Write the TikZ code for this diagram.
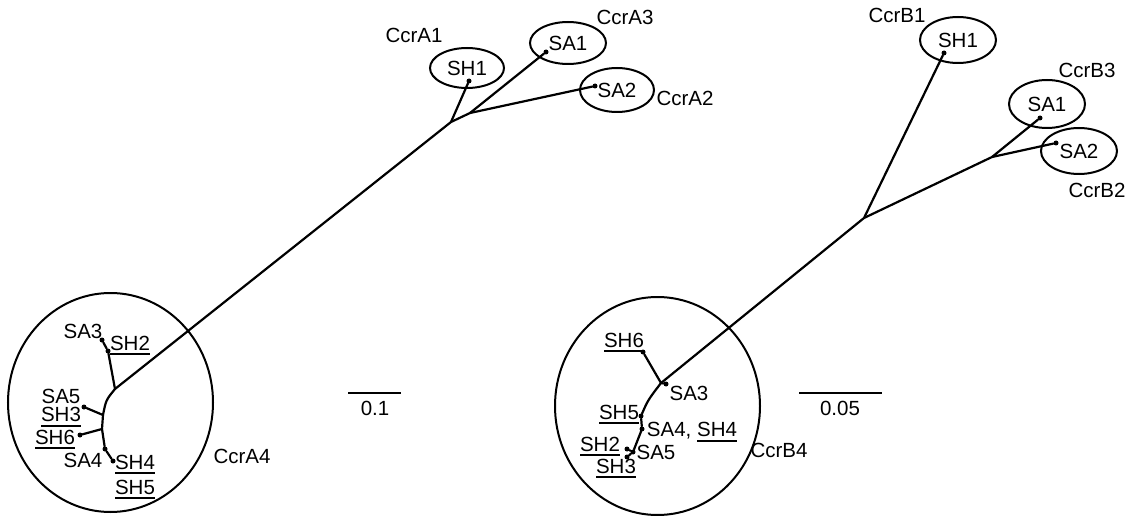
\documentclass[tikz,border=0pt]{standalone}
\usepackage{fontspec}
\setmainfont{Liberation Sans}
\usetikzlibrary{shapes.geometric}
% underline that does not change the height or depth of the text box
\newcommand\ulx[1]{\setbox0\hbox{#1}\rlap{\smash{\rule[-5pt]{\wd0}{1.7pt}}}\box0}
\begin{document}
\begin{tikzpicture}[x=1pt,y=-1pt,
  font=\fontsize{20.5}{24}\selectfont,
  branch/.style={line width=2.2pt, line cap=round, line join=round},
  ring/.style={ellipse, draw, line width=2pt, inner sep=0pt},
  lbl/.style={inner sep=0pt},
  tip/.style={circle, fill, inner sep=0pt, minimum size=5pt},
  bar/.style={line width=2.2pt}]
\useasboundingbox (0,0) rectangle (1128,516);

% ---------------- CcrA tree ----------------
\node[ring, minimum width=205pt, minimum height=219pt] (aC4) at (110.5,402.5) {};
\node[ring, minimum width=74pt, minimum height=40pt] (aE1) at (467,68) {SH1};
\node[ring, minimum width=76pt, minimum height=42pt] (aE3) at (568,43) {SA1};
\node[ring, minimum width=74pt, minimum height=44pt] (aE2) at (617,90) {SA2};

\coordinate (aJ) at (115,389);
\coordinate (aU) at (451,122);
\coordinate (aV) at (470,113);
\node[tip] (aSH1) at (469,81) {};
\node[tip] (aSA1) at (546,52) {};
\node[tip] (aSA2) at (595,86) {};
\draw[branch] (aJ) -- (aU) -- (aV) -- (aSA1);
\draw[branch] (aU) -- (aSH1);
\draw[branch] (aV) -- (aSA2);

\node[tip] (aSH2) at (108,351) {};
\node[tip] (aSA3) at (102,340) {};
\coordinate (aK1) at (103,415);
\coordinate (aK2) at (102,429);
\node[tip] (aSA4) at (105,449) {};
\node[tip] (aSH4) at (113,461) {};
\node[tip] (aSA5) at (84,407) {};
\node[tip] (aSH6) at (80,435) {};
\draw[branch] (aJ) -- (aSH2) -- (aSA3);
\draw[branch] (aJ) .. controls (106,400) .. (aK1) -- (aK2) -- (aSA4) -- (aSH4);
\draw[branch] (aK1) -- (aSA5);
\draw[branch] (aK2) -- (aSH6);

\node[lbl] (taSA3) at (83,331) {SA3};
\node[lbl] (taSH2) at (130,343) {\ulx{SH2}};
\node[lbl] (taSA5) at (61,396) {SA5};
\node[lbl] (taSH3) at (61,414.5) {\ulx{SH3}};
\node[lbl] (taSH6) at (55,437) {\ulx{SH6}};
\node[lbl] (taSA4) at (83,460) {SA4};
\node[lbl] (taSH4) at (135,462) {\ulx{SH4}};
\node[lbl] (taSH5) at (135,487) {\ulx{SH5}};
\node[lbl] (taC4) at (242,456) {CcrA4};
\node[lbl] (taC1) at (414,35) {CcrA1};
\node[lbl] (taC3) at (625,17) {CcrA3};
\node[lbl] (taC2) at (685,98) {CcrA2};

% scale bar 0.1
\coordinate (sa1) at (348,393);
\coordinate (sa2) at (401,393);
\draw[bar] (sa1) -- (sa2);
\node[lbl] (tsa) at (375,408) {0.1};

% ---------------- CcrB tree ----------------
\node[ring, minimum width=205pt, minimum height=218pt] (bC4) at (657.5,406) {};
\node[ring, minimum width=76pt, minimum height=46pt] (bE1) at (958,40) {SH1};
\node[ring, minimum width=76pt, minimum height=48pt] (bE3) at (1047,104) {SA1};
\node[ring, minimum width=76pt, minimum height=46pt] (bE2) at (1079,151) {SA2};

\coordinate (bJ) at (661,383);
\coordinate (bU) at (864,218);
\coordinate (bV) at (992,157);
\node[tip] (bSH1) at (944,53) {};
\node[tip] (bSA1) at (1040,118) {};
\node[tip] (bSA2) at (1056,143) {};
\draw[branch] (bJ) -- (bU) -- (bV) -- (bSA1);
\draw[branch] (bU) -- (bSH1);
\draw[branch] (bV) -- (bSA2);

\node[tip] (bSH6) at (643,352) {};
\node[tip] (bSA3) at (666,384) {};
\node[tip] (bSH5) at (641,416) {};
\node[tip] (bSA4) at (642,429) {};
\node[tip] (bSA5) at (633,452) {};
\node[tip] (bSH2) at (627,449) {};
\node[tip] (bSH3) at (627,457) {};
\draw[branch] (bJ) -- (bSH6);
\draw[branch] (bJ) -- (bSA3);
\draw[branch] (bJ) .. controls (648,400) .. (bSH5) -- (bSA4) -- (bSA5) -- (bSH3);
\draw[branch] (bSA5) -- (bSH2);

\node[lbl] (tbSH6) at (624,340) {\ulx{SH6}};
\node[lbl] (tbSA3) at (689,393) {SA3};
\node[lbl] (tbSH5) at (619,412) {\ulx{SH5}};
\node[lbl] (tbSA4) at (692,431) {SA4, \ulx{SH4}};
\node[lbl] (tbSH2) at (600,444) {\ulx{SH2}};
\node[lbl] (tbSA5) at (656,452) {SA5};
\node[lbl] (tbSH3) at (616,466) {\ulx{SH3}};
\node[lbl] (tbC4) at (779,450) {CcrB4};
\node[lbl] (tbC1) at (897,15) {CcrB1};
\node[lbl] (tbC3) at (1087,70) {CcrB3};
\node[lbl] (tbC2) at (1097,190) {CcrB2};

% scale bar 0.05
\coordinate (sb1) at (799,393);
\coordinate (sb2) at (882,393);
\draw[bar] (sb1) -- (sb2);
\node[lbl] (tsb) at (840,408) {0.05};
\end{tikzpicture}
\end{document}
